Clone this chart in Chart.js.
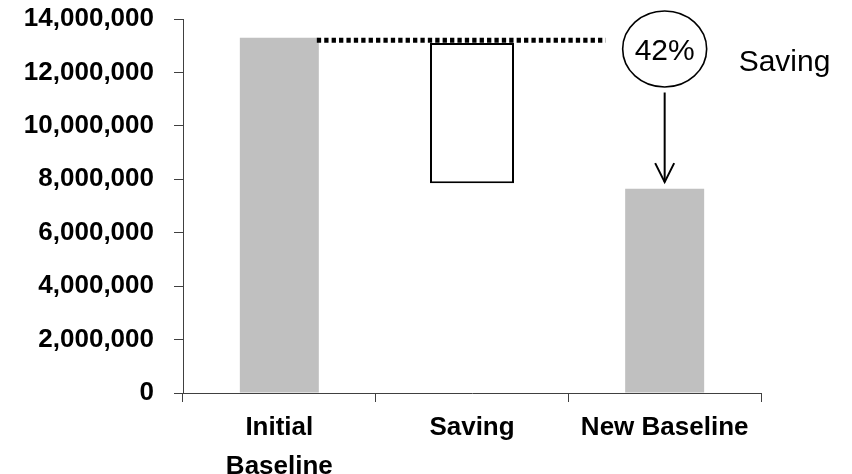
<!DOCTYPE html>
<html>
<head>
<meta charset="utf-8">
<script src="https://cdn.jsdelivr.net/npm/chart.js@4"></script>
<style>
  html, body { margin: 0; padding: 0; background: #fff; }
  #wrap { width: 852px; height: 474px; overflow: hidden; }
</style>
</head>
<body>
<div id="wrap"><canvas id="c" width="852" height="474"></canvas></div>
<script>
// Waterfall: initial baseline, the saving step, and the resulting baseline
const categories = [['Initial', 'Baseline'], 'Saving', 'New Baseline'];
const baselineStart = [0, null, 0];
const baselineEnd = [13300000, null, 7650000];
const savingStart = [null, 7850000, null];
const savingEnd = [null, 13100000, null];
const yTickValues = [0, 2000000, 4000000, 6000000, 8000000, 10000000, 12000000, 14000000];
const savingPercentLabel = '42%';
const savingCaption = 'Saving';

const toRange = (lo, hi) => lo.map((v, i) => (v === null ? null : [v, hi[i]]));

const axisColor = '#404040';
const tickFont = { family: '"Liberation Sans", Arial, sans-serif', size: 26, weight: 'bold' };

const savingAnnotation = {
  id: 'savingAnnotation',
  afterDatasetsDraw(chart) {
    const { ctx, chartArea, scales: { x, y } } = chart;
    const bars = chart.getDatasetMeta(0).data;
    const first = bars[0];
    const last = bars[2];

    const cx = x.getPixelForValue(2);
    const cy = chartArea.top + 30;
    const rx = 42, ry = 38;

    ctx.save();
    // dotted level line from the top of the initial baseline
    const lw = 5;
    const lineY = y.getPixelForValue(baselineEnd[0]) + lw / 2;
    ctx.strokeStyle = '#000';
    ctx.lineWidth = lw;
    ctx.setLineDash([4.3, 3.1]);
    ctx.beginPath();
    ctx.moveTo(first.x + first.width / 2 - 2, lineY);
    ctx.lineTo(cx - rx - 17, lineY);
    ctx.stroke();
    ctx.setLineDash([]);

    // percentage bubble
    ctx.lineWidth = 1.6;
    ctx.beginPath();
    ctx.ellipse(cx, cy, rx, ry, 0, 0, Math.PI * 2);
    ctx.stroke();

    ctx.fillStyle = '#000';
    ctx.font = '30px "Liberation Sans", Arial, sans-serif';
    ctx.textAlign = 'center';
    ctx.textBaseline = 'alphabetic';
    ctx.fillText(savingPercentLabel, cx, cy + 11);

    ctx.textAlign = 'left';
    ctx.fillText(savingCaption, cx + rx + 32, cy + 21.5);

    // arrow down to the new baseline
    const tipY = last.y - 6.5;
    ctx.lineWidth = 2;
    ctx.beginPath();
    ctx.moveTo(cx, cy + ry + 5.5);
    ctx.lineTo(cx, tipY);
    ctx.stroke();
    ctx.beginPath();
    ctx.moveTo(cx - 9.5, tipY - 19);
    ctx.lineTo(cx, tipY);
    ctx.lineTo(cx + 9.5, tipY - 19);
    ctx.stroke();
    ctx.restore();
  }
};

new Chart(document.getElementById('c'), {
  type: 'bar',
  data: {
    labels: categories,
    datasets: [
      {
        data: toRange(baselineStart, baselineEnd),
        backgroundColor: '#c0c0c0',
        borderWidth: 0,
        barPercentage: 0.41,
        categoryPercentage: 1,
        grouped: false
      },
      {
        data: toRange(savingStart, savingEnd),
        backgroundColor: '#ffffff',
        borderColor: '#000000',
        borderWidth: 2,
        borderSkipped: false,
        barPercentage: 0.436,
        categoryPercentage: 1,
        grouped: false
      }
    ]
  },
  options: {
    responsive: false,
    animation: false,
    devicePixelRatio: 1,
    layout: { padding: { left: 0, top: 19, right: 91, bottom: 0 } },
    plugins: { legend: { display: false }, tooltip: { enabled: false } },
    scales: {
      x: {
        offset: true,
        grid: {
          offset: true,
          drawOnChartArea: false,
          drawTicks: true,
          tickLength: 9,
          color: axisColor,
          lineWidth: 1
        },
        border: { display: true, color: axisColor, width: 1 },
        ticks: {
          color: '#000',
          font: { ...tickFont, lineHeight: 1.5 },
          padding: 6.5,
          maxRotation: 0,
          autoSkip: false
        },
        afterFit(scale) { scale.height = 81; }
      },
      y: {
        min: 0,
        max: 14000000,
        afterBuildTicks(scale) { scale.ticks = yTickValues.map(v => ({ value: v })); },
        grid: {
          drawOnChartArea: false,
          drawTicks: true,
          tickLength: 9,
          color: axisColor,
          lineWidth: 1
        },
        border: { display: true, color: axisColor, width: 1 },
        ticks: {
          color: '#000',
          font: tickFont,
          padding: 20,
          callback: v => Number(v).toLocaleString('en-US')
        },
        afterFit(scale) {
          scale.width = 183;
          scale.paddingTop = 0;
          scale.paddingBottom = 0;
        }
      }
    }
  },
  plugins: [savingAnnotation]
});
</script>
</body>
</html>
